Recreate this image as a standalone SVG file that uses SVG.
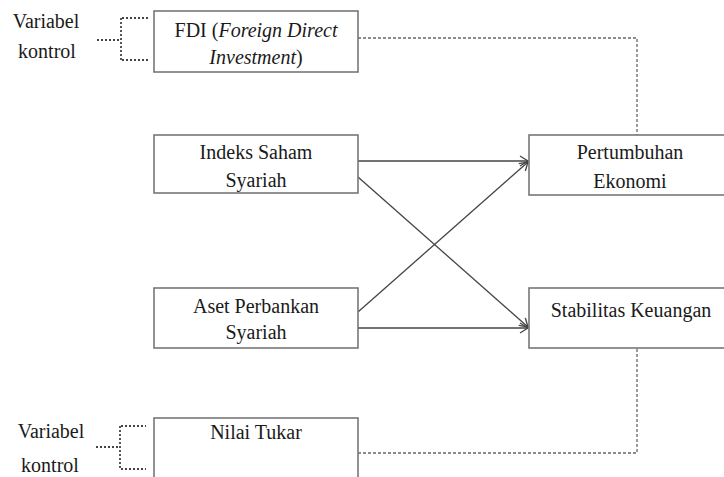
<svg xmlns="http://www.w3.org/2000/svg" width="724" height="477" viewBox="0 0 724 477" font-family="'Liberation Serif', 'DejaVu Serif', serif">
<defs>
<style>
.box{fill:#fff;stroke:#777;stroke-width:1.6}
.t{font-family:'Liberation Serif','DejaVu Serif',serif;font-size:20px;fill:#1a1a1a;text-anchor:middle}
.i{font-style:italic}
.ln{fill:none;stroke:#444;stroke-width:1.3}
.dash{fill:none;stroke:#666;stroke-width:1.3;stroke-dasharray:3 2}
.dot{fill:none;stroke:#444;stroke-width:1.8;stroke-dasharray:2 2}
</style>
<marker id="ah" markerWidth="12" markerHeight="12" refX="10" refY="6" orient="auto" markerUnits="userSpaceOnUse">
<path d="M2,1 L10,6 L2,11" fill="none" stroke="#444" stroke-width="1.3"/>
</marker>
</defs>
<rect width="724" height="477" fill="#fff"/>

<g id="connectors">
<line class="ln" x1="358" y1="161" x2="528" y2="161" marker-end="url(#ah)"/>
<line class="ln" x1="358" y1="177" x2="528" y2="327" marker-end="url(#ah)"/>
<line class="ln" x1="358" y1="312" x2="528" y2="162" marker-end="url(#ah)"/>
<line class="ln" x1="358" y1="328" x2="528" y2="328" marker-end="url(#ah)"/>
<path class="dash" d="M358,38 H637 V135"/>
<path class="dash" d="M358,453 H637 V348"/>
</g>

<g id="ctrl-top">
<text class="t" x="46" y="28">Variabel</text>
<text class="t" x="47" y="58">kontrol</text>
<path class="dot" d="M97,40 H119"/>
<path class="dot" d="M121,18 V60"/>
<path class="dot" d="M122,18 H148 M122,60 H148"/>
</g>

<g id="ctrl-bottom">
<text class="t" x="51" y="438">Variabel</text>
<text class="t" x="50" y="472">kontrol</text>
<path class="dot" d="M96,447 H118"/>
<path class="dot" d="M120,426 V469"/>
<path class="dot" d="M121,426 H146 M121,469 H146"/>
</g>

<g id="fdi">
<rect class="box" x="154" y="11" width="204" height="61"/>
<text class="t" x="256" y="37">FDI (<tspan class="i">Foreign Direct</tspan></text>
<text class="t" x="256" y="64"><tspan class="i">Investment</tspan>)</text>
</g>

<g id="indeks">
<rect class="box" x="154" y="135" width="204" height="58"/>
<text class="t" x="256" y="159">Indeks Saham</text>
<text class="t" x="256" y="187">Syariah</text>
</g>

<g id="aset">
<rect class="box" x="154" y="288" width="204" height="60"/>
<text class="t" x="256" y="313">Aset Perbankan</text>
<text class="t" x="256" y="339">Syariah</text>
</g>

<g id="nilai">
<rect class="box" x="154" y="418" width="204" height="70"/>
<text class="t" x="256" y="439">Nilai Tukar</text>
</g>

<g id="pertumbuhan">
<rect class="box" x="529" y="135" width="204" height="60"/>
<text class="t" x="630" y="159">Pertumbuhan</text>
<text class="t" x="630" y="188">Ekonomi</text>
</g>

<g id="stabilitas">
<rect class="box" x="529" y="288" width="204" height="60"/>
<text class="t" x="631" y="317">Stabilitas Keuangan</text>
</g>
</svg>
